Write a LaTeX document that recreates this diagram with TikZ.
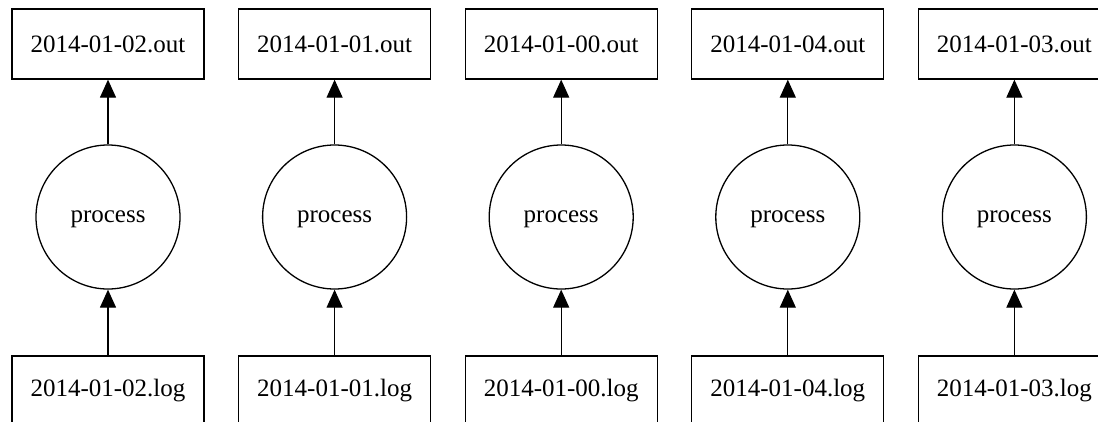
\documentclass[tikz,border=0pt]{standalone}
\usepackage{fontspec}
\setmainfont{Liberation Serif}
\usetikzlibrary{arrows.meta}
\begin{document}
\begin{tikzpicture}[x=1pt,y=-1pt,
  filebox/.style={draw=black, line width=1.3pt, minimum width=192pt, minimum height=70pt, inner sep=0pt, font=\fontsize{25}{30}\selectfont},
  procnode/.style={draw=black, line width=1.3pt, circle, minimum size=144pt, inner sep=0pt, text depth=0pt, font=\fontsize{25}{30}\selectfont},
  flow/.style={line width=1.3pt, -{Triangle[length=18pt,width=16pt]}}]
  \useasboundingbox (0,0) rectangle (1098,421);
  \clip (0,0) rectangle (1098,421);
  \fill[white] (0,0) rectangle (1098,421);
  \foreach \i/\d in {0/02,1/01,2/00,3/04,4/03} {
    \pgfmathsetmacro{\cx}{108+226.6*\i}
    \node[filebox] (out\i) at (\cx,44) {2014-01-\d.out};
    \node[procnode] (proc\i) at (\cx,217) {process};
    \node[filebox] (log\i) at (\cx,391) {2014-01-\d.log};
    \draw[flow] (log\i) -- (proc\i);
    \draw[flow] (proc\i) -- (out\i);
  }
\end{tikzpicture}
\end{document}
